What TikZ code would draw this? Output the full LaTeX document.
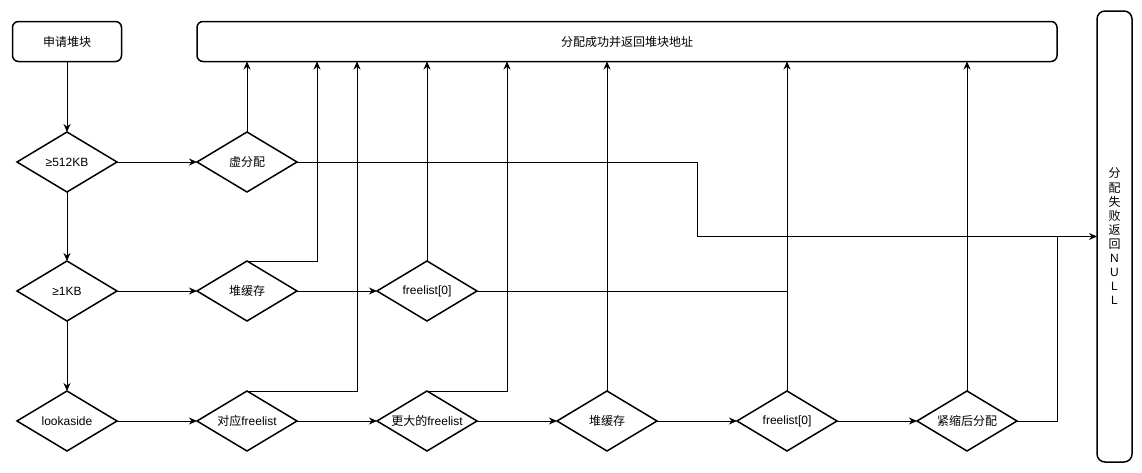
\documentclass[tikz,border=0pt]{standalone}
\usepackage{fontspec}
\setmainfont{Liberation Sans}
\newfontfamily\cjk{Noto Sans CJK SC}
\usetikzlibrary{shapes.geometric,arrows.meta}
\begin{document}
\begin{tikzpicture}[x=1pt,y=-1pt, font=\fontsize{12}{14}\selectfont,
  dia/.style={diamond, draw, line width=1.5pt, minimum width=100pt, minimum height=60pt, aspect=1.6667, inner sep=0pt, outer sep=0pt},
  box/.style={draw, line width=1.5pt, rounded corners=6pt, inner sep=0pt, outer sep=0pt},
  arr/.style={line width=1pt, -{Stealth[length=8pt,width=7pt]}},
  ln/.style={line width=1pt}]
\useasboundingbox (0,0) rectangle (1142,472);

\node[box, minimum width=109pt, minimum height=40pt] (req) at (67,41.5) {{\cjk 申请堆块}};
\node[box, minimum width=860pt, minimum height=40pt] (ok) at (627,41.5) {{\cjk 分配成功并返回堆块地址}};
\node[box, minimum width=35pt, minimum height=451pt, rounded corners=8pt, align=center, font=\fontsize{12}{14.1}\selectfont] (fail) at (1114.5,236.5)
  {{\cjk 分}\\{\cjk 配}\\{\cjk 失}\\{\cjk 败}\\{\cjk 返}\\{\cjk 回}\\N\\U\\L\\L};

\node[dia] (a1) at (67,162) {≥512KB};
\node[dia] (a2) at (67,291) {≥1KB};
\node[dia] (a3) at (67,421) {lookaside};
\node[dia] (b1) at (247,162) {{\cjk 虚分配}};
\node[dia] (b2) at (247,291) {{\cjk 堆缓存}};
\node[dia] (b3) at (247,421) {{\cjk 对应}freelist};
\node[dia] (c2) at (427,291) {freelist[0]};
\node[dia] (c3) at (427,421) {{\cjk 更大的}freelist};
\node[dia] (d3) at (607,421) {{\cjk 堆缓存}};
\node[dia] (e3) at (787,421) {freelist[0]};
\node[dia] (f3) at (967,421) {{\cjk 紧缩后分配}};

\draw[arr] (req.south) -- (req.south |- a1.north);
\draw[arr] (a1) -- (a2);
\draw[arr] (a2) -- (a3);
\draw[arr] (a1) -- (b1);
\draw[arr] (a2) -- (b2);
\draw[arr] (b2) -- (c2);
\draw[arr] (a3) -- (b3);
\draw[arr] (b3) -- (c3);
\draw[arr] (c3) -- (d3);
\draw[arr] (d3) -- (e3);
\draw[arr] (e3) -- (f3);

\draw[arr] (b1) -- (b1 |- ok.south);
\draw[arr] (b2.north) -| ([xshift=70pt]b2.north |- ok.south);
\draw[arr] (b3.north) -| ([xshift=110pt]b3.north |- ok.south);
\draw[arr] (c2) -- (c2 |- ok.south);
\draw[arr] (c3.north) -| ([xshift=80pt]c3.north |- ok.south);
\draw[arr] (d3) -- (d3 |- ok.south);
\draw[arr] (e3) -- (e3 |- ok.south);
\draw[arr] (f3) -- (f3 |- ok.south);
\draw[ln] (c2.east) -- (e3 |- c2.east);

\draw[arr] (b1.east) -- ([xshift=400pt]b1.east) |- (fail.west);
\draw[ln] (f3.east) -| ([xshift=-40pt]fail.west);
\end{tikzpicture}
\end{document}
